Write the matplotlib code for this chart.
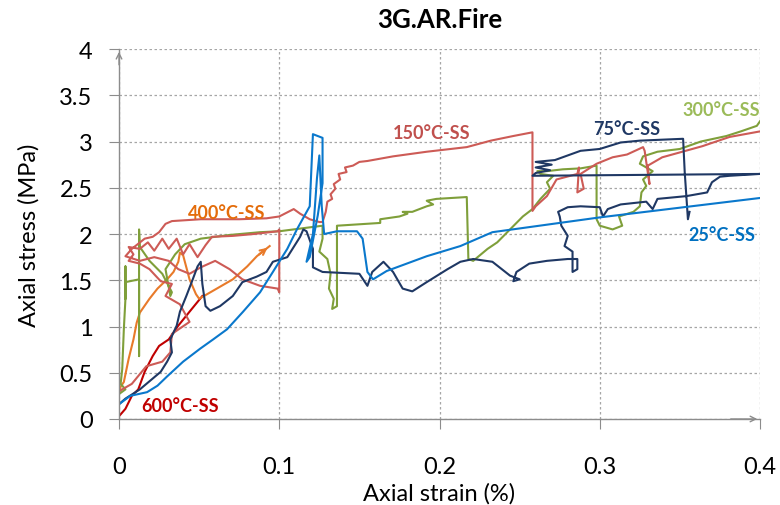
import numpy as np
import matplotlib
matplotlib.use('Agg')
import matplotlib.pyplot as plt

plt.rcParams['font.family'] = ['Lato', 'DejaVu Sans']

# 25°C-SS
x25 = [0.0, 0.007, 0.0175, 0.024, 0.030, 0.040, 0.0506, 0.0587, 0.0674, 0.0774, 0.088, 0.096, 0.105,
       0.111, 0.119, 0.121, 0.127, 0.127, 0.124, 0.119, 0.117, 0.121, 0.1235, 0.125, 0.1265, 0.128,
       0.136, 0.1485, 0.152, 0.155, 0.1585, 0.167, 0.192, 0.213, 0.233, 0.300, 0.400]
y25 = [0.16, 0.25, 0.29, 0.36, 0.46, 0.62, 0.76, 0.86, 0.97, 1.16, 1.37, 1.59, 1.84,
       2.05, 2.30, 3.08, 3.04, 2.55, 2.20, 1.75, 1.70, 2.00, 2.60, 2.85, 2.30, 2.00,
       2.03, 2.03, 1.95, 1.59, 1.51, 1.60, 1.76, 1.87, 2.02, 2.18, 2.39]

# 75°C-SS
x75 = [0.0, 0.004, 0.013, 0.026, 0.030, 0.033, 0.032, 0.036, 0.038, 0.042, 0.046, 0.049, 0.051,
       0.052, 0.054, 0.057, 0.063, 0.071, 0.077, 0.086, 0.092, 0.096, 0.105, 0.113, 0.115, 0.117,
       0.121, 0.121, 0.127, 0.150, 0.155, 0.158, 0.165, 0.171, 0.177, 0.183, 0.192, 0.205, 0.213,
       0.221, 0.233, 0.244, 0.250, 0.246, 0.248, 0.256, 0.267, 0.280, 0.286, 0.286, 0.283, 0.283,
       0.278, 0.280, 0.276, 0.275, 0.274, 0.280, 0.288, 0.300, 0.302, 0.305, 0.313, 0.329, 0.333,
       0.336, 0.354, 0.367, 0.370, 0.375, 0.381, 0.400,
       0.258, 0.260, 0.269, 0.260, 0.270, 0.260, 0.272, 0.288, 0.300, 0.313, 0.325, 0.352,
       0.353, 0.355, 0.356]
y75 = [0.16, 0.22, 0.32, 0.51, 0.62, 0.72, 0.86, 1.01, 1.16, 1.33, 1.51, 1.65, 1.70,
       1.46, 1.22, 1.17, 1.22, 1.33, 1.48, 1.54, 1.59, 1.70, 1.75, 1.97, 2.05, 2.03,
       1.84, 1.64, 1.59, 1.57, 1.44, 1.59, 1.70, 1.59, 1.41, 1.38, 1.48, 1.62, 1.70,
       1.73, 1.70, 1.55, 1.51, 1.49, 1.59, 1.68, 1.71, 1.73, 1.73, 1.62, 1.59, 1.81,
       1.87, 1.98, 2.09, 2.19, 2.24, 2.29, 2.30, 2.29, 2.19, 2.27, 2.32, 2.35, 2.27,
       2.38, 2.41, 2.45, 2.56, 2.62, 2.63, 2.65,
       2.63, 2.66, 2.69, 2.72, 2.75, 2.78, 2.80, 2.90, 2.92, 2.99, 3.01, 3.03,
       2.67, 2.16, 2.24]

# 150°C-SS
x150 = [0.0, 0.008, 0.017, 0.027, 0.032, 0.033, 0.044, 0.038, 0.029, 0.033, 0.026, 0.019, 0.013,
        0.006, 0.009, 0.006, 0.013, 0.018, 0.022, 0.027, 0.031, 0.036, 0.040, 0.044, 0.049, 0.054,
        0.058, 0.071, 0.084, 0.099, 0.100, 0.100, 0.099, 0.088, 0.077, 0.069, 0.060, 0.051, 0.044,
        0.037, 0.031, 0.022, 0.013, 0.004, 0.008, 0.016, 0.021, 0.025, 0.029, 0.033, 0.051, 0.075,
        0.092, 0.100, 0.109, 0.113, 0.119, 0.125, 0.127, 0.129, 0.130, 0.133, 0.132, 0.135, 0.134,
        0.138, 0.137, 0.142, 0.141, 0.146, 0.150, 0.155, 0.171, 0.192, 0.217, 0.232, 0.246, 0.258,
        0.258, 0.258, 0.260, 0.267, 0.273, 0.286, 0.287, 0.286, 0.290, 0.288, 0.298, 0.308, 0.317,
        0.327, 0.328, 0.331, 0.330, 0.339, 0.364, 0.381, 0.400]
y150 = [0.30, 0.38, 0.57, 0.62, 0.72, 0.92, 1.05, 1.24, 1.33, 1.46, 1.49, 1.62, 1.68,
        1.71, 1.78, 1.86, 1.84, 1.91, 1.82, 1.95, 1.84, 1.95, 1.78, 1.89, 1.75, 1.88,
        1.97, 1.98, 2.00, 2.03, 2.05, 1.37, 1.41, 1.44, 1.51, 1.62, 1.71, 1.64, 1.57,
        1.62, 1.71, 1.75, 1.71, 1.76, 1.84, 1.95, 1.97, 2.02, 2.11, 2.14, 2.16, 2.16,
        2.17, 2.19, 2.27, 2.22, 2.16, 2.13, 2.13, 2.24, 2.35, 2.38, 2.43, 2.49, 2.54,
        2.59, 2.65, 2.67, 2.72, 2.74, 2.78, 2.79, 2.84, 2.89, 2.94, 3.01, 3.06, 3.10,
        3.08, 2.25, 2.30, 2.41, 2.59, 2.65, 2.72, 2.45, 2.49, 2.65, 2.76, 2.83, 2.86,
        2.94, 2.90, 2.54, 2.74, 2.83, 2.95, 3.05, 3.11]

# 300°C-SS
x300 = [0.0, 0.004, 0.001, 0.002, 0.003, 0.004, 0.004, 0.004, 0.004, 0.0125, 0.0125, 0.0125, 0.013,
        0.019, 0.027, 0.033, 0.032, 0.029, 0.035, 0.041, 0.051, 0.069, 0.088, 0.100, 0.127, 0.127,
        0.125, 0.130, 0.132, 0.131, 0.134, 0.133, 0.136, 0.136, 0.163, 0.163, 0.175, 0.180, 0.177,
        0.183, 0.192, 0.196, 0.192, 0.198, 0.217, 0.218, 0.221, 0.230, 0.236, 0.244, 0.252, 0.258,
        0.263, 0.269, 0.267, 0.271, 0.263, 0.261, 0.267, 0.277, 0.288, 0.298, 0.298, 0.300, 0.308,
        0.314, 0.312, 0.321, 0.325, 0.326, 0.329, 0.327, 0.333, 0.325, 0.327, 0.336, 0.350, 0.363,
        0.379, 0.388, 0.398, 0.400]
y300 = [0.27, 0.32, 0.38, 0.54, 0.97, 1.30, 1.65, 1.30, 1.48, 1.51, 0.68, 2.05, 1.86,
        1.71, 1.57, 1.37, 1.33, 1.62, 1.78, 1.89, 1.95, 1.99, 2.02, 2.03, 2.09, 1.95,
        1.81, 1.73, 1.57, 1.41, 1.30, 1.19, 1.22, 2.09, 2.12, 2.16, 2.19, 2.22, 2.24,
        2.24, 2.30, 2.32, 2.36, 2.38, 2.40, 1.73, 1.71, 1.84, 1.91, 2.05, 2.19, 2.27,
        2.38, 2.49, 2.56, 2.63, 2.65, 2.68, 2.68, 2.70, 2.71, 2.74, 2.16, 2.09, 2.05,
        2.09, 2.19, 2.24, 2.30, 2.45, 2.52, 2.59, 2.68, 2.76, 2.84, 2.89, 2.92, 3.00,
        3.06, 3.11, 3.17, 3.22]

# 400°C-SS
x400 = [0.0, 0.001, 0.003, 0.006, 0.009, 0.011, 0.013, 0.017, 0.019, 0.024, 0.030, 0.034, 0.037,
        0.038, 0.040, 0.042, 0.044, 0.048, 0.050, 0.056, 0.061, 0.071, 0.080, 0.086, 0.094]
y400 = [0.27, 0.35, 0.40, 0.65, 0.86, 1.04, 1.15, 1.25, 1.30, 1.41, 1.51, 1.59, 1.70,
        1.80, 1.77, 1.64, 1.51, 1.35, 1.30, 1.36, 1.41, 1.51, 1.65, 1.76, 1.87]

# 600°C-SS
x600 = [0.0, 0.004, 0.006, 0.008, 0.012, 0.016, 0.021, 0.025, 0.031, 0.037, 0.044, 0.052]
y600 = [0.03, 0.11, 0.18, 0.25, 0.32, 0.51, 0.68, 0.79, 0.86, 1.01, 1.16, 1.33]

fig = plt.figure(figsize=(7.8, 5.06), dpi=100)
ax = fig.add_axes([0.1526, 0.170, 0.8218, 0.731])

lw = 1.5
ax.plot(x600, y600, color='#C00000', lw=lw)
ax.plot(x400, y400, color='#E87A2A', lw=lw)
ax.annotate('', xy=(x400[-1], y400[-1]), xytext=(x400[-2], y400[-2]),
            arrowprops=dict(arrowstyle='->', color='#E87A2A', lw=lw))
ax.plot(x300, y300, color='#7F9F3A', lw=lw)
ax.plot(x150, y150, color='#CD5B56', lw=lw)
ax.plot(x75, y75, color='#1F3864', lw=lw)
ax.plot(x25, y25, color='#0A78CC', lw=lw)

# curve labels
lab = dict(fontsize=13, fontweight='bold', ha='center', va='center')
ax.text(0.067, 2.23, '400°C-SS', color='#E46C0A', **lab)
ax.text(0.195, 3.10, '150°C-SS', color='#C0504D', **lab)
ax.text(0.317, 3.14, '75°C-SS', color='#1F3864', **lab)
ax.text(0.376, 3.35, '300°C-SS', color='#9BBB59', **lab)
ax.text(0.376, 2.00, '25°C-SS', color='#0070C0', **lab)
ax.text(0.038, 0.146, '600°C-SS', color='#C00000', **lab)

ax.set_xlim(0, 0.4)
ax.set_ylim(0, 4)
ax.set_xticks([0, 0.1, 0.2, 0.3, 0.4])
ax.set_xticklabels(['0', '0.1', '0.2', '0.3', '0.4'])
ax.set_yticks([0, 0.5, 1, 1.5, 2, 2.5, 3, 3.5, 4])
ax.set_yticklabels(['0', '0.5', '1', '1.5', '2', '2.5', '3', '3.5', '4'])
ax.grid(True, color='#A6A6A6', linestyle=(0, (2, 2)), lw=0.9)
ax.set_axisbelow(True)

for s in ['top', 'right']:
    ax.spines[s].set_visible(False)
for s in ['left', 'bottom']:
    ax.spines[s].set_color('#8C8C8C')
    ax.spines[s].set_linewidth(1.0)
ax.tick_params(axis='both', colors='#8C8C8C', labelcolor='black', labelsize=17, length=7)
ax.tick_params(axis='y', pad=12)
ax.tick_params(axis='x', pad=20)

# arrow heads on the axes
ax.annotate('', xy=(0, 1.0), xytext=(0, 0.95), xycoords='axes fraction',
            arrowprops=dict(arrowstyle='->', color='#8C8C8C', lw=1.0))
ax.annotate('', xy=(1.0, 0), xytext=(0.95, 0), xycoords='axes fraction',
            arrowprops=dict(arrowstyle='->', color='#8C8C8C', lw=1.0))

ax.set_xlabel('Axial strain (%)', fontsize=17, labelpad=3)
ax.set_ylabel('Axial stress (MPa)', fontsize=17, labelpad=14)
ax.set_title('3G.AR.Fire', fontsize=18.5, fontweight='bold', pad=16)

fig.savefig('out.png', dpi=100)
